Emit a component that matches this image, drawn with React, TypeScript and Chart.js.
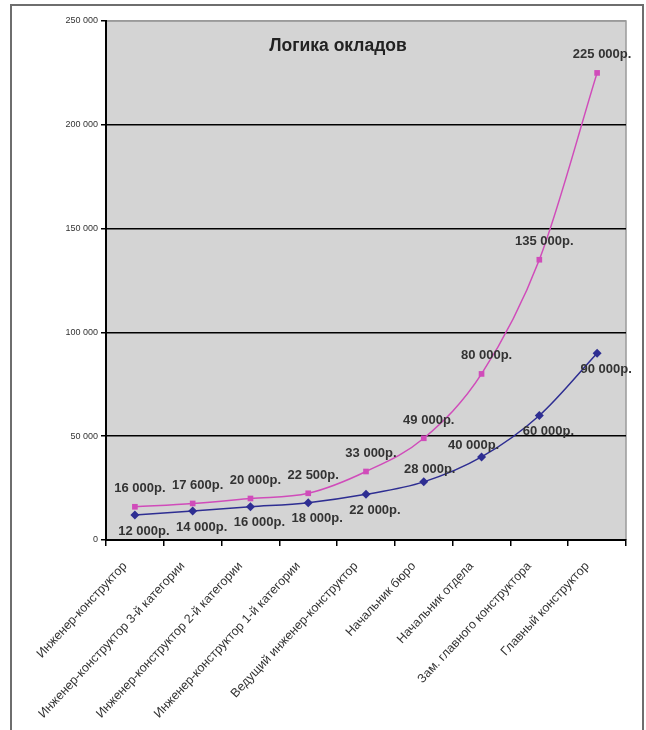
import React, { useEffect, useRef } from 'react';
import { Chart, registerables } from 'chart.js';

Chart.register(...registerables);

const categories = [
  'Инженер-конструктор',
  'Инженер-конструктор 3-й категории',
  'Инженер-конструктор 2-й категории',
  'Инженер-конструктор 1-й категории',
  'Ведущий инженер-конструктор',
  'Начальник бюро',
  'Начальник отдела',
  'Зам. главного конструктора',
  'Главный конструктор',
];

const upperSalary = [16000, 17600, 20000, 22500, 33000, 49000, 80000, 135000, 225000];
const lowerSalary = [12000, 14000, 16000, 18000, 22000, 28000, 40000, 60000, 90000];

const yTickValues = [0, 50000, 100000, 150000, 200000, 250000];
const chartTitle = 'Логика окладов';

const fmt = (v: number) => String(v).replace(/\B(?=(\d{3})+(?!\d))/g, ' ');

const PINK = '#d04cba';
const BLUE = '#2e2e92';

// label placement style for the lower series: indices whose label sits above the point
const lowerAboveIdx = [5, 6];

const decorPlugin = {
  id: 'decor',
  beforeDraw(chart: any) {
    const { ctx, chartArea: a, width, height } = chart;
    ctx.save();
    ctx.fillStyle = '#ffffff';
    ctx.fillRect(0, 0, width, height);
    ctx.strokeStyle = '#6e6e6e';
    ctx.lineWidth = 2;
    ctx.strokeRect(11, 5, 632, height + 10);
    ctx.fillStyle = '#d4d4d4';
    ctx.fillRect(a.left, a.top, a.right - a.left, a.bottom - a.top);
    ctx.strokeStyle = '#9a9a9a';
    ctx.lineWidth = 1.5;
    ctx.beginPath();
    ctx.moveTo(a.left, a.top);
    ctx.lineTo(a.right, a.top);
    ctx.lineTo(a.right, a.bottom);
    ctx.stroke();
    ctx.restore();
  },
  afterDatasetsDraw(chart: any) {
    const { ctx, chartArea: a } = chart;
    ctx.save();
    ctx.font = 'bold 17.5px Arial, "Liberation Sans", sans-serif';
    ctx.fillStyle = '#222';
    ctx.textAlign = 'center';
    ctx.textBaseline = 'middle';
    ctx.fillText(chartTitle, a.left + 232, a.top + 25);

    ctx.font = 'bold 13px Arial, "Liberation Sans", sans-serif';
    ctx.fillStyle = '#333';
    chart.data.datasets.forEach((ds: any, di: number) => {
      const meta = chart.getDatasetMeta(di);
      meta.data.forEach((pt: any, i: number) => {
        const v = ds.data[i];
        let dx = 5;
        let dy = -18;
        if (di === 1) {
          if (lowerAboveIdx.includes(i)) {
            dx = i === 5 ? 6 : -8;
            dy = -12;
          } else {
            dx = 9;
            dy = 16;
          }
        }
        ctx.fillText(fmt(v) + 'р.', pt.x + dx, pt.y + dy);
      });
    });
    ctx.restore();
  },
};

export default function App() {
  const ref = useRef<HTMLCanvasElement | null>(null);

  useEffect(() => {
    if (!ref.current) return;
    const chart = new Chart(ref.current, {
      type: 'line',
      data: {
        labels: categories,
        datasets: [
          {
            label: 'Верхняя граница',
            data: upperSalary,
            borderColor: PINK,
            backgroundColor: PINK,
            borderWidth: 1.5,
            pointStyle: 'rect',
            pointRadius: 4,
            pointBorderWidth: 0,
            cubicInterpolationMode: 'monotone',
          },
          {
            label: 'Нижняя граница',
            data: lowerSalary,
            borderColor: BLUE,
            backgroundColor: BLUE,
            borderWidth: 1.5,
            pointStyle: 'rectRot',
            pointRadius: 4.5,
            pointBorderWidth: 0,
            cubicInterpolationMode: 'monotone',
          },
        ],
      },
      options: {
        responsive: false,
        animation: false,
        layout: { padding: { top: 21, right: 20, left: 0, bottom: 0 } },
        plugins: {
          legend: { display: false },
          tooltip: { enabled: false },
          title: { display: false },
        },
        scales: {
          x: {
            offset: true,
            grid: {
              offset: true,
              drawOnChartArea: false,
              drawTicks: true,
              tickLength: 6,
              color: '#000',
              lineWidth: 1.5,
            },
            border: { display: true, color: '#000', width: 2 },
            ticks: {
              autoSkip: false,
              minRotation: 47,
              maxRotation: 47,
              padding: 13,
              labelOffset: -10,
              color: '#333',
              font: { family: 'Arial, "Liberation Sans", sans-serif', size: 12.5 },
            },
            afterFit(scale: any) {
              scale.height = 190;
            },
          },
          y: {
            min: 0,
            max: 250000,
            afterBuildTicks(scale: any) {
              scale.ticks = yTickValues.map((v) => ({ value: v }));
            },
            grid: {
              color: (c: any) => (c.tick && c.tick.value === 250000 ? '#9a9a9a' : '#000'),
              lineWidth: 1.5,
              tickLength: 5,
              tickColor: '#000',
            },
            border: { display: true, color: '#000', width: 2 },
            ticks: {
              padding: 3,
              color: '#333',
              font: { family: 'Arial, "Liberation Sans", sans-serif', size: 9 },
              callback: (v: any) => fmt(Number(v)),
            },
            afterFit(scale: any) {
              scale.width = 106;
            },
          },
        },
      },
      plugins: [decorPlugin],
    });
    return () => chart.destroy();
  }, []);

  return (
    <div style={{ position: 'absolute', left: 0, top: 0, width: 646, height: 730 }}>
      <canvas ref={ref} width={646} height={730} style={{ display: 'block' }} />
    </div>
  );
}
